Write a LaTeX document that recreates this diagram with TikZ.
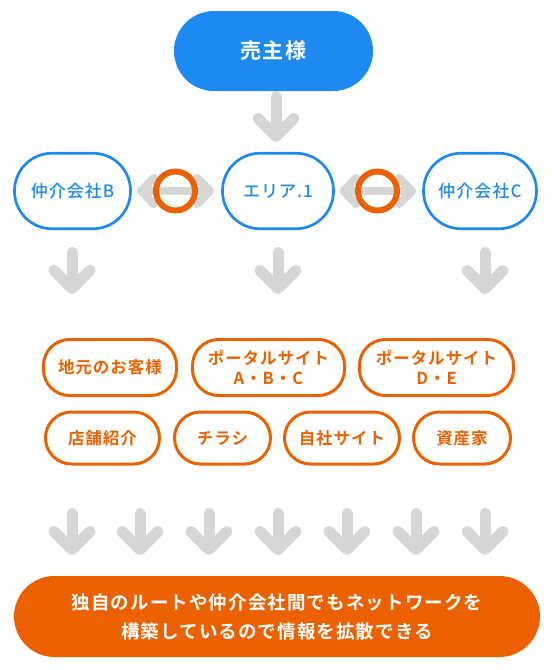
\documentclass[tikz,border=0pt]{standalone}
\usepackage{fontspec}
\usetikzlibrary{arrows.meta}
\newfontfamily\jpbold{Noto Sans CJK JP Bold}[LetterSpace=6]
\newfontfamily\jpmed{Noto Sans CJK JP Medium}[LetterSpace=6]

\definecolor{sellerblue}{RGB}{30,137,240}
\definecolor{netorange}{RGB}{235,97,0}
\definecolor{arrowgray}{RGB}{214,214,214}

\tikzset{
  sellerbox/.style={rectangle, rounded corners=40pt, fill=sellerblue, text=white, inner sep=0pt,
    minimum width=199pt, minimum height=80pt, font=\jpbold\fontsize{21}{25}\selectfont},
  agentbox/.style={rectangle, rounded corners=37.5pt, draw=sellerblue, line width=2.7pt, text=sellerblue,
    inner sep=0pt, minimum height=75.5pt, font=\jpmed\fontsize{17}{20}\selectfont},
  routebox/.style={rectangle, rounded corners=26pt, draw=netorange, line width=3pt, text=netorange,
    align=center, inner sep=0pt, font=\jpbold\fontsize{16.5}{20}\selectfont},
  resultbox/.style={rectangle, rounded corners=40.5pt, fill=netorange, text=white, align=center,
    inner sep=0pt, minimum width=526pt, minimum height=81pt, font=\jpbold\fontsize{18.5}{29}\selectfont},
  ring/.style={circle, draw=netorange, line width=6pt, minimum size=39pt, inner sep=0pt},
  downarr/.style={draw=arrowgray, line width=11pt, line cap=round,
    -{Straight Barb[round, length=18pt, width=36pt]}},
  duoarr/.style={draw=arrowgray, line width=8pt, line cap=round,
    {Straight Barb[round, length=13pt, width=26pt]}-{Straight Barb[round, length=13pt, width=26pt]}},
}

\begin{document}
\begin{tikzpicture}[x=1pt, y=-1pt]
    \useasboundingbox (0,0) rectangle (554,670);

    % seller and the three agents
    \node[sellerbox] (seller) at (273.5,51) {売主様};
    \node[agentbox, minimum width=116pt] (agentB) at (72.5,191) {仲介会社B};
    \node[agentbox, minimum width=111pt] (area) at (278,191) {エリア.1};
    \node[agentbox, minimum width=113pt] (agentC) at (480,191) {仲介会社C};

    \draw[downarr, shorten >=10pt] (seller.south) ++(2.5,5.5) coordinate (s0) -- (s0 |- area.north);
    \draw[duoarr, shorten <=5pt, shorten >=7pt] (agentB) -- (area);
    \draw[duoarr, shorten <=4.5pt, shorten >=6pt] (area) -- (agentC);
    \node[ring] (ringL) at (175.5,191) {};
    \node[ring] (ringR) at (377.5,191) {};

    % arrows under the agents
    \coordinate (mB1) at (72,252.5);   \coordinate (mB2) at (72,294);
    \coordinate (mA1) at (278,252.5);  \coordinate (mA2) at (278,294);
    \coordinate (mC1) at (485,252.5);  \coordinate (mC2) at (485,294);
    \draw[downarr] (mB1) -- (mB2);
    \draw[downarr] (mA1) -- (mA2);
    \draw[downarr] (mC1) -- (mC2);

    % routes
    \node[routebox, minimum width=133pt, minimum height=56pt] (local) at (110,367.5) {地元のお客様};
    \node[routebox, minimum width=152pt, minimum height=56pt] (portalA) at (268.5,367.5) {ポータルサイト\\A・B・C};
    \node[routebox, minimum width=154pt, minimum height=56pt] (portalD) at (436.5,367.5) {ポータルサイト\\D・E};
    \node[routebox, minimum width=114pt, minimum height=52pt] (shop) at (102.5,438) {店舗紹介};
    \node[routebox, minimum width=96pt, minimum height=52pt] (flyer) at (222.5,438) {チラシ};
    \node[routebox, minimum width=115pt, minimum height=52pt] (site) at (342,438) {自社サイト};
    \node[routebox, minimum width=97pt, minimum height=52pt] (owner) at (462,438) {資産家};

    % arrows into the result
    \foreach \x [count=\i] in {72,140,209,278,347,416,485} {
        \coordinate (r\i) at (\x,513.5);
        \coordinate (q\i) at (\x,555);
        \draw[downarr] (r\i) -- (q\i);
    }

    \node[resultbox] (result) at (277,616.5) {独自のルートや仲介会社間でもネットワークを\\構築しているので情報を拡散できる};
\end{tikzpicture}
\end{document}
